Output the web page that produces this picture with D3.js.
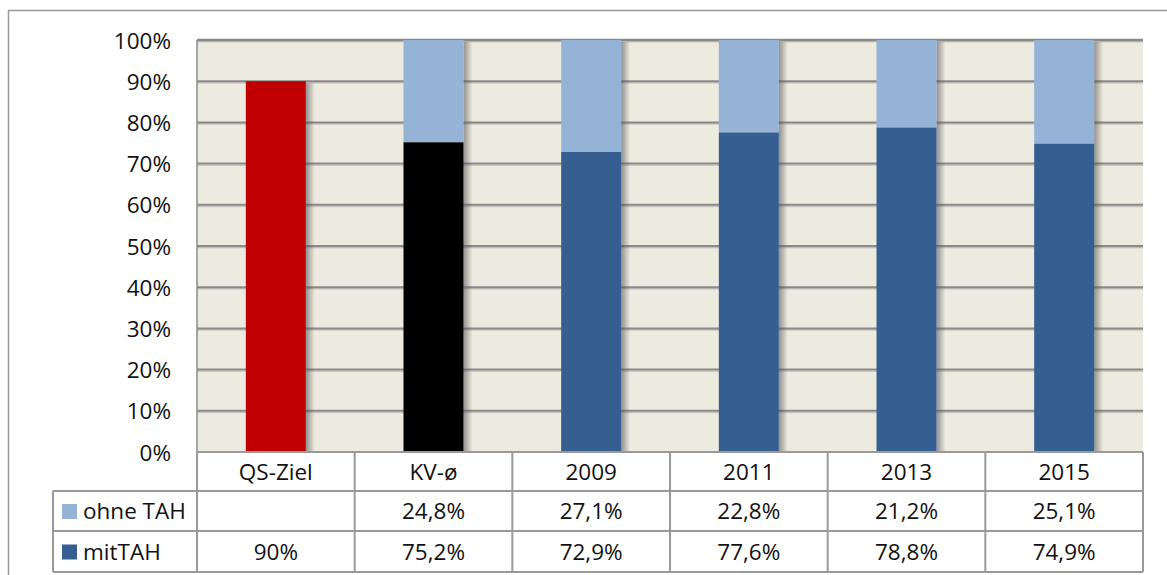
<!DOCTYPE html>
<html>
<head>
<meta charset="utf-8">
<script src="https://cdnjs.cloudflare.com/ajax/libs/d3/7.8.5/d3.min.js"></script>
<style>
  html, body { margin: 0; padding: 0; background: #fff; }
  svg { display: block; font-family: 'Open Sans', 'Lato', sans-serif; }
</style>
</head>
<body>
<div id="chart"></div>
<script>
// données
const categories = ['QS-Ziel', 'KV-ø', '2009', '2011', '2013', '2015'];
const mitTAH  = [90, 75.2, 72.9, 77.6, 78.8, 74.9];
const ohneTAH = [null, 24.8, 27.1, 22.8, 21.2, 25.1];
const mitLabels  = ['90%', '75,2%', '72,9%', '77,6%', '78,8%', '74,9%'];
const ohneLabels = ['', '24,8%', '27,1%', '22,8%', '21,2%', '25,1%'];
const yTicks = [0, 10, 20, 30, 40, 50, 60, 70, 80, 90, 100];
const seriesNames = ['ohne TAH', 'mitTAH'];

const W = 1167, H = 575;
const pLeft = 197, pRight = 1143, pTop = 40, pBottom = 452;
const rowH = [452, 491, 531, 572];
const legendX = 53;
const FS = 22.5;

const mitColors = ['#c00000', '#000000', '#365f91', '#365f91', '#365f91', '#365f91'];
const ohneColor = '#95b3d7';

const svg = d3.select('#chart').append('svg').attr('width', W).attr('height', H);

// ombre des barres
const defs = svg.append('defs');
const grad = defs.append('linearGradient').attr('id', 'shadow');
grad.append('stop').attr('offset', '0%').attr('stop-color', '#555').attr('stop-opacity', 0.6);
grad.append('stop').attr('offset', '100%').attr('stop-color', '#555').attr('stop-opacity', 0);
const gGrad = defs.append('linearGradient').attr('id', 'gshadow').attr('x1', 0).attr('x2', 0).attr('y1', 0).attr('y2', 1);
gGrad.append('stop').attr('offset', '0%').attr('stop-color', '#777').attr('stop-opacity', 0.5);
gGrad.append('stop').attr('offset', '100%').attr('stop-color', '#777').attr('stop-opacity', 0);

// cadre extérieur
svg.append('line').attr('x1', 8).attr('x2', W).attr('y1', 10.5).attr('y2', 10.5)
  .attr('stroke', '#999').attr('stroke-width', 1.5);
svg.append('line').attr('x1', 8.5).attr('x2', 8.5).attr('y1', 10).attr('y2', H)
  .attr('stroke', '#999').attr('stroke-width', 1.5);

const x = d3.scaleBand().domain(categories).range([pLeft, pRight]).paddingInner(0).paddingOuter(0);
const y = d3.scaleLinear().domain([0, 100]).range([pBottom, pTop]).clamp(true);

svg.append('rect').attr('x', pLeft).attr('y', pTop).attr('width', pRight - pLeft).attr('height', pBottom - pTop)
  .attr('fill', '#edeae0');

// grille
yTicks.filter(t => t > 0).forEach(t => {
  svg.append('rect').attr('x', pLeft).attr('y', y(t) + 1).attr('width', pRight - pLeft).attr('height', 2)
    .attr('fill', 'url(#gshadow)');
  svg.append('line').attr('x1', pLeft).attr('x2', pRight).attr('y1', y(t)).attr('y2', y(t))
    .attr('stroke', '#8a8a8a').attr('stroke-width', t === 100 ? 2.5 : 2);
});
svg.append('line').attr('x1', pLeft).attr('x2', pLeft).attr('y1', pTop).attr('y2', pBottom)
  .attr('stroke', '#8a8a8a').attr('stroke-width', 1.5);

// axe y
const yAxis = svg.append('g').attr('transform', `translate(${pLeft - 26},0)`)
  .call(d3.axisLeft(y).tickValues(yTicks).tickFormat(d => d + '%').tickSize(0));
yAxis.attr('font-size', FS).attr('font-family', null);
yAxis.select('.domain').remove();
yAxis.selectAll('text').attr('fill', '#111').attr('x', 0).attr('dy', '0.36em');

// barres
const bw = 60;
const bx = c => x(c) + x.bandwidth() / 2 - bw / 2;
const bars = svg.append('g');
categories.forEach((c, i) => {
  const total = mitTAH[i] + (ohneTAH[i] || 0);
  bars.append('rect').attr('x', bx(c) + bw).attr('y', y(total) + 2).attr('width', 9)
    .attr('height', pBottom - y(total) - 2).attr('fill', 'url(#shadow)');
  bars.append('rect').attr('x', bx(c)).attr('y', y(mitTAH[i])).attr('width', bw)
    .attr('height', pBottom - y(mitTAH[i])).attr('fill', mitColors[i]);
  if (ohneTAH[i] != null) {
    bars.append('rect').attr('x', bx(c)).attr('y', y(total)).attr('width', bw)
      .attr('height', y(mitTAH[i]) - y(total)).attr('fill', ohneColor);
  }
});

// tableau
const tbl = svg.append('g').attr('stroke', '#999').attr('stroke-width', 2);
tbl.append('line').attr('x1', pLeft).attr('x2', pRight).attr('y1', pBottom).attr('y2', pBottom);
[rowH[1], rowH[2], rowH[3]].forEach(yy => {
  tbl.append('line').attr('x1', legendX).attr('x2', pRight).attr('y1', yy).attr('y2', yy);
});
tbl.append('line').attr('x1', legendX).attr('x2', legendX).attr('y1', rowH[1]).attr('y2', rowH[3]);
categories.forEach(c => {
  tbl.append('line').attr('x1', x(c)).attr('x2', x(c)).attr('y1', pBottom).attr('y2', rowH[3]);
});
tbl.append('line').attr('x1', pRight).attr('x2', pRight).attr('y1', pBottom).attr('y2', rowH[3]);

const txt = svg.append('g').attr('font-size', FS).attr('fill', '#111').attr('text-anchor', 'middle');
categories.forEach((c, i) => {
  const cx = x(c) + x.bandwidth() / 2;
  txt.append('text').attr('x', cx).attr('y', (rowH[0] + rowH[1]) / 2 + 8).text(c);
  txt.append('text').attr('x', cx).attr('y', (rowH[1] + rowH[2]) / 2 + 8).text(ohneLabels[i]);
  txt.append('text').attr('x', cx).attr('y', (rowH[2] + rowH[3]) / 2 + 8).text(mitLabels[i]);
});

// légende
[ohneColor, '#365f91'].forEach((col, i) => {
  const yc = (rowH[i + 1] + rowH[i + 2]) / 2;
  svg.append('rect').attr('x', 62).attr('y', yc - 7).attr('width', 15).attr('height', 15).attr('fill', col);
  svg.append('text').attr('x', 83).attr('y', yc + 8).attr('font-size', FS).attr('fill', '#111')
    .text(seriesNames[i]);
});
</script>
</body>
</html>
